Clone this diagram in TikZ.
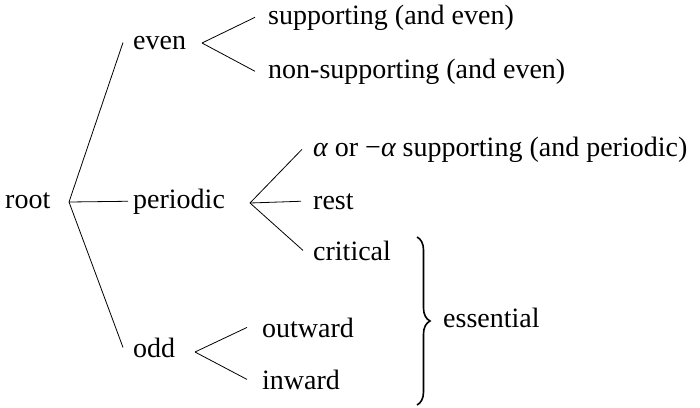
\documentclass[tikz,border=0pt]{standalone}
\usepackage{fontspec}
\setmainfont{Liberation Serif}
\usetikzlibrary{decorations.pathreplacing}
\begin{document}
\begin{tikzpicture}[x=1pt,y=-1pt,
  lbl/.style={inner sep=0pt,anchor=base west,font=\fontsize{28}{34}\selectfont},
  edge/.style={line width=0.8pt,black},
  bracestyle/.style={line width=1.6pt,decorate,decoration={brace,amplitude=13pt}}]
\useasboundingbox (0,0) rectangle (700,407);
% nodes
\node[lbl] (root) at (5,208) {root};
\node[lbl] (even) at (133,49) {even};
\node[lbl] (periodic) at (133,208) {periodic};
\node[lbl] (odd) at (133,357) {odd};
\node[lbl] (supp) at (268,24) {supporting (and even)};
\node[lbl] (nonsupp) at (268,78) {non-supporting (and even)};
\node[lbl] (alpha) at (313,156) {{\itshape α} or −{\itshape α} supporting (and periodic)};
\node[lbl] (rest) at (313,209) {rest};
\node[lbl] (critical) at (313,260) {critical};
\node[lbl] (outward) at (262,337) {outward};
\node[lbl] (inward) at (262,389) {inward};
\node[lbl] (essential) at (443,327) {essential};
% apex coordinates
\coordinate (rootapex) at (69,202);
\coordinate (evenapex) at (202,43);
\coordinate (perapex) at (250,203);
\coordinate (oddapex) at (195,352);
\coordinate (bracetop) at (417,237);
\coordinate (bracebot) at (417,405);
% connectors
\draw[edge] (rootapex) -- ([xshift=-10pt]even.west);
\draw[edge] (rootapex) -- ([xshift=-5pt]periodic.west);
\draw[edge] (rootapex) -- ([xshift=-10pt]odd.west);
\draw[edge] (evenapex) -- ([xshift=-13pt]supp.west);
\draw[edge] (evenapex) -- ([xshift=-13pt]nonsupp.west);
\draw[edge] (perapex) -- ([xshift=-11pt]alpha.west);
\draw[edge] (perapex) -- ([xshift=-12pt]rest.west);
\draw[edge] (perapex) -- ([xshift=-10pt]critical.west);
\draw[edge] (oddapex) -- ([xshift=-15pt]outward.west);
\draw[edge] (oddapex) -- ([xshift=-15pt]inward.west);
% brace
\draw[bracestyle] (bracetop) -- (bracebot);
\end{tikzpicture}
\end{document}
